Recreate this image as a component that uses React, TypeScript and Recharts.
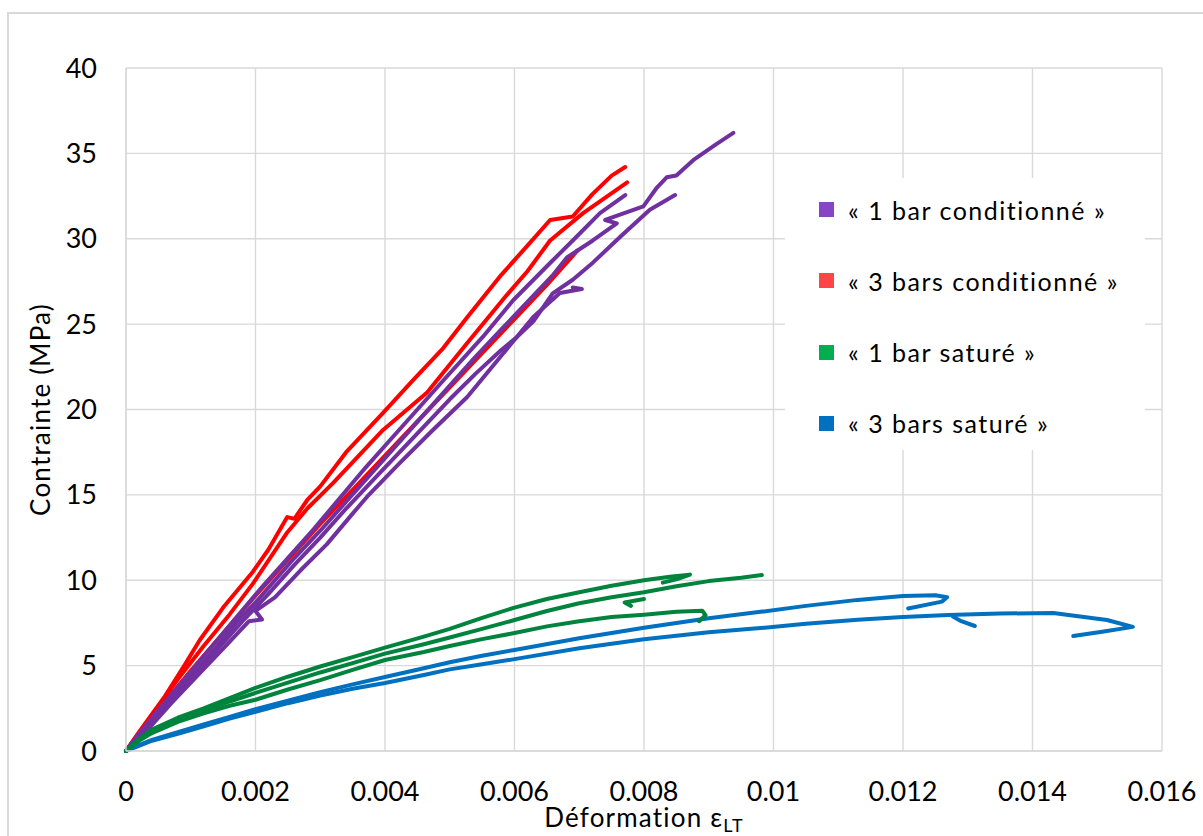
import React from 'react';
import { LineChart, Line, XAxis, YAxis, CartesianGrid, Legend } from 'recharts';

type Pt = { x: number; y: number };
const toPts = (a: number[][]): Pt[] => a.map(([x, y]) => ({ x, y }));

const X_TICKS = [0, 0.002, 0.004, 0.006, 0.008, 0.01, 0.012, 0.014, 0.016];
const Y_TICKS = [0, 5, 10, 15, 20, 25, 30, 35, 40];

const SERIES_NAMES = ['« 1 bar conditionné »', '« 3 bars conditionné »', '« 1 bar saturé »', '« 3 bars saturé »'];
const LINE_COLORS = ['#7030A0', '#FF0000', '#00843D', '#0070C0'];
const LEGEND_COLORS = ['#8545C5', '#FF4545', '#00B050', '#0070C0'];

// « 1 bar conditionné » (purple)
const P1 = [[0,0],[0.0002,0.9],[0.0005,2.2],[0.0008,3.5],[0.0011,4.8],[0.0014,6.1],[0.0017,7.5],[0.002,8.7],[0.0023,10.0],[0.0026,11.3],[0.003,12.9],[0.0034,14.6],[0.0038,16.3],[0.0042,18.0],[0.0046,19.7],[0.005,21.4],[0.0054,23.1],[0.0058,24.7],[0.0062,26.3],[0.0066,27.9],[0.00681,28.9],[0.00721,29.9],[0.00758,30.9],[0.0074,31.1],[0.00799,31.9],[0.0082,33.0],[0.00835,33.6],[0.0085,33.7],[0.00876,34.6],[0.0091,35.5],[0.00938,36.2]];
const P2 = [[0,0],[0.0003,1.2],[0.0006,2.5],[0.001,4.2],[0.0014,5.9],[0.0018,7.6],[0.0022,9.2],[0.0026,10.9],[0.003,12.5],[0.0034,14.2],[0.0038,15.8],[0.0042,17.4],[0.0046,19.0],[0.005,20.6],[0.0054,22.1],[0.0058,23.5],[0.00604,24.25],[0.0063,25.2],[0.00659,26.8],[0.0069,27.6],[0.00721,28.6],[0.00763,30.1],[0.00809,31.7],[0.00848,32.56]];
const P3 = [[0,0],[0.0002,1.0],[0.0005,2.4],[0.0009,4.2],[0.0013,6.0],[0.0017,7.8],[0.0021,9.6],[0.0025,11.3],[0.0029,13.0],[0.0033,14.8],[0.0037,16.6],[0.0041,18.3],[0.0045,20.0],[0.0049,21.7],[0.00551,24.25],[0.00598,26.4],[0.00655,28.58],[0.0069,29.9],[0.00732,31.5],[0.00771,32.56]];
const P4 = [[0,0],[0.0003,1.1],[0.0007,2.8],[0.0011,4.4],[0.0015,6.0],[0.0019,7.6],[0.0021,7.7],[0.002,8.2],[0.0023,9.0],[0.0027,10.6],[0.0031,12.1],[0.0035,13.9],[0.00372,14.88],[0.00423,16.87],[0.00474,18.8],[0.00527,20.73],[0.00578,23.07],[0.00629,25.42],[0.0067,26.82],[0.00704,27.06],[0.0069,27.15]];

// « 3 bars conditionné » (red)
const R1 = [[0,0],[0.0002,1.1],[0.00037,2.0],[0.0006,3.2],[0.0009,5.0],[0.00114,6.5],[0.0015,8.4],[0.00196,10.5],[0.0022,11.8],[0.00249,13.7],[0.0026,13.6],[0.0028,14.7],[0.003,15.5],[0.0034,17.5],[0.00397,19.8],[0.00443,21.7],[0.0049,23.6],[0.00527,25.4],[0.0058,27.9],[0.0062,29.6],[0.00655,31.1],[0.0069,31.3],[0.0072,32.6],[0.0075,33.7],[0.00771,34.2]];
const R2 = [[0,0],[0.00042,2.2],[0.0008,4.2],[0.00119,6.1],[0.0016,8.0],[0.00196,9.8],[0.00249,12.8],[0.0028,14.2],[0.0032,15.7],[0.00397,18.8],[0.00465,21.0],[0.00527,23.9],[0.00588,26.7],[0.0062,28.1],[0.00655,29.9],[0.00706,31.5],[0.00774,33.3]];
const R3 = [[0,0],[0.0005,2.4],[0.001,4.7],[0.0015,6.9],[0.002,9.1],[0.0025,11.2],[0.003,13.3],[0.0035,15.3],[0.004,17.3],[0.0045,19.3],[0.005,21.3],[0.0055,23.3],[0.006,25.3],[0.0065,27.3],[0.00697,29.3]];

// « 1 bar saturé » (green)
const G1 = [[0,0],[0.0002,0.7],[0.0004,1.25],[0.0008,1.95],[0.0012,2.5],[0.0016,3.1],[0.002,3.7],[0.0025,4.35],[0.003,4.95],[0.0035,5.5],[0.004,6.05],[0.0046,6.7],[0.005,7.15],[0.0055,7.8],[0.006,8.4],[0.0065,8.9],[0.007,9.3],[0.0075,9.68],[0.008,10.0],[0.0084,10.2],[0.00871,10.33],[0.0085,10.05],[0.00829,9.86]];
const G2 = [[0,0],[0.0002,0.65],[0.0004,1.15],[0.0008,1.8],[0.0012,2.35],[0.0016,2.9],[0.002,3.4],[0.0025,4.0],[0.003,4.6],[0.0035,5.15],[0.004,5.7],[0.0046,6.25],[0.005,6.65],[0.0055,7.15],[0.006,7.67],[0.0065,8.2],[0.007,8.65],[0.0075,9.0],[0.008,9.3],[0.0085,9.65],[0.009,9.95],[0.0095,10.15],[0.00982,10.31]];
const G3 = [[0,0],[0.0002,0.6],[0.0004,1.05],[0.0008,1.7],[0.0012,2.2],[0.0016,2.65],[0.002,3.0],[0.0025,3.6],[0.003,4.15],[0.0035,4.75],[0.004,5.33],[0.0046,5.8],[0.005,6.15],[0.0055,6.55],[0.006,6.91],[0.0065,7.3],[0.007,7.6],[0.0075,7.85],[0.008,7.98],[0.0085,8.15],[0.0089,8.22],[0.00895,7.95],[0.00885,7.6]];
const G4 = [[0.008,8.9],[0.0077,8.7],[0.0078,8.5]];

// « 3 bars saturé » (blue)
const B1 = [[0,0],[0.0002,0.35],[0.0004,0.65],[0.0008,1.1],[0.0012,1.55],[0.0016,2.0],[0.002,2.45],[0.0025,2.95],[0.003,3.45],[0.0035,3.9],[0.004,4.33],[0.0046,4.85],[0.005,5.2],[0.0055,5.58],[0.006,5.92],[0.007,6.6],[0.008,7.22],[0.009,7.78],[0.0098,8.15],[0.0105,8.5],[0.0113,8.85],[0.012,9.08],[0.0125,9.12],[0.01268,9.0],[0.0126,8.75],[0.01208,8.35]];
const B2 = [[0,0],[0.0002,0.3],[0.0004,0.6],[0.0008,1.0],[0.0012,1.45],[0.0016,1.9],[0.002,2.3],[0.0025,2.8],[0.003,3.25],[0.0035,3.65],[0.004,3.98],[0.0046,4.45],[0.005,4.78],[0.0055,5.08],[0.006,5.38],[0.007,6.02],[0.008,6.55],[0.009,6.95],[0.0098,7.2],[0.0105,7.45],[0.0113,7.68],[0.012,7.85],[0.0127,7.96],[0.0135,8.05],[0.01432,8.08],[0.01515,7.67],[0.01555,7.27],[0.0151,7.0],[0.01463,6.73]];
const B3 = [[0.01277,7.87],[0.0129,7.6],[0.01311,7.32]];

// drawing order: red, purple, blue, green
const CURVES: { s: number; d: number[][] }[] = [
  { s: 1, d: R1 }, { s: 1, d: R2 }, { s: 1, d: R3 },
  { s: 0, d: P1 }, { s: 0, d: P2 }, { s: 0, d: P3 }, { s: 0, d: P4 },
  { s: 3, d: B1 }, { s: 3, d: B2 }, { s: 3, d: B3 },
  { s: 2, d: G1 }, { s: 2, d: G2 }, { s: 2, d: G3 }, { s: 2, d: G4 },
];

const FONT = 'Lato, "Open Sans", sans-serif';

const LegendBox = () => (
  <div style={{ background: '#fff', width: 360, height: 272, position: 'relative', fontFamily: FONT, fontSize: 25, letterSpacing: 1.5, color: '#000' }}>
    {SERIES_NAMES.map((n, i) => (
      <div key={n} style={{ position: 'absolute', left: 34, top: 31.5 + i * 71.3 - 15, height: 30, display: 'flex', alignItems: 'center', whiteSpace: 'nowrap' }}>
        <span style={{ display: 'inline-block', width: 15, height: 15, background: LEGEND_COLORS[i], marginRight: 14 }} />
        <span>{n}</span>
      </div>
    ))}
  </div>
);

const XLabel = (props: any) => {
  const vb = props.viewBox || {};
  const cx = vb.x + vb.width / 2;
  return (
    <text x={cx} y={vb.y + 76} textAnchor="middle" fontFamily={FONT} fontSize={26} letterSpacing={1.2} fill="#000">
      Déformation ε<tspan dy={5} fontSize={18}>LT</tspan>
    </text>
  );
};

const YLabel = (props: any) => {
  const vb = props.viewBox || {};
  const cy = vb.y + vb.height / 2;
  const cx = vb.x + 40;
  return (
    <text x={cx} y={cy} textAnchor="middle" dominantBaseline="central" transform={`rotate(-90, ${cx}, ${cy})`} fontFamily={FONT} fontSize={26} letterSpacing={1.2} fill="#000">
      Contrainte (MPa)
    </text>
  );
};

export default function App() {
  return (
    <div style={{ position: 'fixed', left: 0, top: 0, width: 1203, height: 836, overflow: 'hidden', background: '#fff' }}>
      <div style={{ position: 'absolute', left: 7, top: 12, width: 1230, height: 860, border: '2px solid #D9D9D9', boxSizing: 'border-box' }} />
      <div style={{ position: 'absolute', left: 0, top: 0 }}>
        <LineChart width={1203} height={836} margin={{ top: 68, right: 41, left: 0, bottom: 0 }}>
          <CartesianGrid stroke="#D9D9D9" strokeWidth={1.4} horizontalValues={Y_TICKS} verticalValues={X_TICKS} />
          <XAxis
            type="number"
            dataKey="x"
            domain={[0, 0.016]}
            ticks={X_TICKS}
            tickFormatter={(v: number) => String(v)}
            height={85}
            axisLine={{ stroke: '#D9D9D9', strokeWidth: 1.4 }}
            tickLine={false}
            tickSize={6}
            tickMargin={25}
            tick={{ fill: '#000', fontSize: 27, fontFamily: FONT }}
            interval={0}
            label={<XLabel />}
          />
          <YAxis
            type="number"
            dataKey="y"
            domain={[0, 40]}
            ticks={Y_TICKS}
            width={126}
            axisLine={{ stroke: '#D9D9D9', strokeWidth: 1.4 }}
            tickLine={false}
            tickSize={6}
            tickMargin={23}
            tick={{ fill: '#000', fontSize: 27, fontFamily: FONT }}
            interval={0}
            label={<YLabel />}
          />
          <Legend
            layout="horizontal"
            verticalAlign="middle"
            align="center"
            wrapperStyle={{ position: 'absolute', left: 785, top: 178, width: 360, height: 272 }}
            content={<LegendBox />}
          />
          {CURVES.map((c, i) => (
            <Line
              key={i}
              data={toPts(c.d)}
              dataKey="y"
              name={SERIES_NAMES[c.s]}
              stroke={LINE_COLORS[c.s]}
              strokeWidth={4}
              strokeLinejoin="round"
              strokeLinecap="round"
              dot={false}
              activeDot={false}
              type="linear"
              isAnimationActive={false}
              legendType="none"
            />
          ))}
        </LineChart>
      </div>
    </div>
  );
}
